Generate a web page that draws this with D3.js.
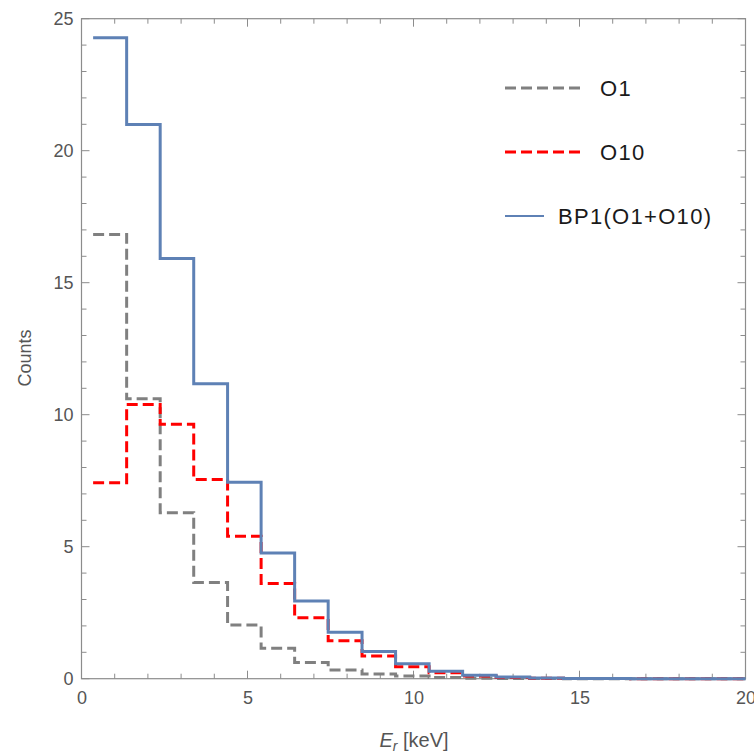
<!DOCTYPE html>
<html>
<head>
<meta charset="utf-8">
<script src="https://cdn.jsdelivr.net/npm/d3@7"></script>
<style>
  html, body { margin: 0; padding: 0; background: #fff; }
  svg { display: block; font-family: "Liberation Sans", Arial, Helvetica, sans-serif; }
</style>
</head>
<body>
<svg id="chart" width="754" height="755"></svg>
<script>
// Bin edges of the recoil-energy histogram (keV)
const binEdges = [0.35, 1.36, 2.37, 3.38, 4.40, 5.41, 6.42, 7.43, 8.45, 9.46, 10.47,
                  11.48, 12.49, 13.50, 14.52, 15.53, 16.54, 17.55, 18.56, 19.57, 20.58];

// Counts per bin
const countsO1  = [16.83, 10.60, 6.29, 3.64, 2.03, 1.15, 0.61, 0.33, 0.18, 0.10,
                   0.05, 0.02, 0.01, 0.005, 0.002, 0.001, 0, 0, 0, 0];
const countsO10 = [7.42, 10.39, 9.64, 7.55, 5.40, 3.61, 2.31, 1.44, 0.86, 0.45,
                   0.23, 0.10, 0.05, 0.02, 0.01, 0.005, 0.002, 0.001, 0, 0];
const countsBP1 = [24.28, 20.99, 15.92, 11.17, 7.44, 4.76, 2.94, 1.76, 1.03, 0.57,
                   0.28, 0.13, 0.06, 0.03, 0.012, 0.006, 0.002, 0.001, 0, 0];

const seriesNames = ["O1", "O10", "BP1(O1+O10)"];
const xTicks = [0, 5, 10, 15, 20];
const yTicks = [0, 5, 10, 15, 20, 25];

(function () {
const svg = d3.select("#chart");
const pLeft = 81.5, pRight = 745.5, pTop = 18.7, pBottom = 678.7;

const x = d3.scaleLinear().domain([0, 20]).range([pLeft, pRight]);
const y = d3.scaleLinear().domain([0, 25]).range([pBottom, pTop]);

const frameColor = "#8c8c8c";
const labelColor = "#555";

// Clip region for the histogram steps
svg.append("defs").append("clipPath").attr("id", "plotClip")
  .append("rect").attr("x", pLeft).attr("y", pTop - 4)
  .attr("width", pRight - pLeft).attr("height", pBottom - pTop + 8);

// Frame ticks (inward on all four sides)
const minorX = d3.range(0, 21, 1);
const minorY = d3.range(0, 26, 1);
const tickG = svg.append("g").attr("stroke", frameColor).attr("stroke-width", 1);
minorX.forEach(v => {
  const len = v % 5 === 0 ? 8 : 5;
  tickG.append("line").attr("x1", x(v)).attr("x2", x(v)).attr("y1", pBottom).attr("y2", pBottom - len);
  tickG.append("line").attr("x1", x(v)).attr("x2", x(v)).attr("y1", pTop).attr("y2", pTop + len);
});
minorY.forEach(v => {
  const len = v % 5 === 0 ? 8 : 5;
  tickG.append("line").attr("x1", pLeft).attr("x2", pLeft + len).attr("y1", y(v)).attr("y2", y(v));
  tickG.append("line").attr("x1", pRight).attr("x2", pRight - len).attr("y1", y(v)).attr("y2", y(v));
});

// Frame
svg.append("rect").attr("x", pLeft).attr("y", pTop)
  .attr("width", pRight - pLeft).attr("height", pBottom - pTop)
  .attr("fill", "none").attr("stroke", frameColor).attr("stroke-width", 1.2);

// Tick labels via d3 axes (lines hidden; labels only)
const xAxis = d3.axisBottom(x).tickValues(xTicks).tickSize(0).tickPadding(13);
const gx = svg.append("g").attr("transform", `translate(0,${pBottom})`).call(xAxis);
gx.select(".domain").remove();
gx.selectAll("text").attr("font-size", 18).attr("fill", labelColor)
  .attr("font-family", "Liberation Sans, Arial, sans-serif");

const yAxis = d3.axisLeft(y).tickValues(yTicks).tickSize(0).tickPadding(8);
const gy = svg.append("g").attr("transform", `translate(${pLeft},0)`).call(yAxis);
gy.select(".domain").remove();
gy.selectAll("text").attr("font-size", 18).attr("fill", labelColor)
  .attr("font-family", "Liberation Sans, Arial, sans-serif");

// Axis titles
svg.append("text").attr("transform", `translate(31,358) rotate(-90)`)
  .attr("text-anchor", "middle").attr("font-size", 18).attr("fill", labelColor)
  .text("Counts");
const xt = svg.append("text").attr("x", 414).attr("y", 747)
  .attr("text-anchor", "middle").attr("font-size", 20).attr("fill", labelColor);
xt.append("tspan").attr("font-style", "italic").text("E");
xt.append("tspan").attr("font-style", "italic").attr("font-size", 14).attr("dy", 4).text("r");
xt.append("tspan").attr("dy", -4).text(" [keV]");

// Histogram steps
function stepPoints(vals) {
  const pts = vals.map((v, i) => [binEdges[i], v]);
  pts.push([binEdges[vals.length], vals[vals.length - 1]]);
  return pts;
}
const line = d3.line().x(d => x(d[0])).y(d => y(d[1])).curve(d3.curveStepAfter);

const series = [
  { name: seriesNames[0], values: countsO1,  color: "#808080", dash: "11,5", width: 3 },
  { name: seriesNames[1], values: countsO10, color: "#ff0000", dash: "11,5", width: 3 },
  { name: seriesNames[2], values: countsBP1, color: "#5e81b5", dash: null,   width: 3 }
];

const plot = svg.append("g").attr("clip-path", "url(#plotClip)");
series.forEach(s => {
  plot.append("path").datum(stepPoints(s.values))
    .attr("d", line).attr("fill", "none")
    .attr("stroke", s.color).attr("stroke-width", s.width)
    .attr("stroke-dasharray", s.dash).attr("stroke-linejoin", "miter");
});

// Legend
const legend = [
  { s: series[0], y: 88,  x2: 583, tx: 600 },
  { s: series[1], y: 152, x2: 583, tx: 600 },
  { s: series[2], y: 216, x2: 544, tx: 558 }
];
legend.forEach(l => {
  svg.append("line").attr("x1", 505).attr("x2", l.x2).attr("y1", l.y).attr("y2", l.y)
    .attr("stroke", l.s.color).attr("stroke-width", l.s.dash ? 3 : 2)
    .attr("stroke-dasharray", l.s.dash);
  svg.append("text").attr("x", l.tx).attr("y", l.y).attr("dy", "0.35em")
    .attr("font-size", 22).attr("letter-spacing", 1.3)
    .attr("fill", "#1a1a1a").text(l.s.name);
});
})();
</script>
</body>
</html>
